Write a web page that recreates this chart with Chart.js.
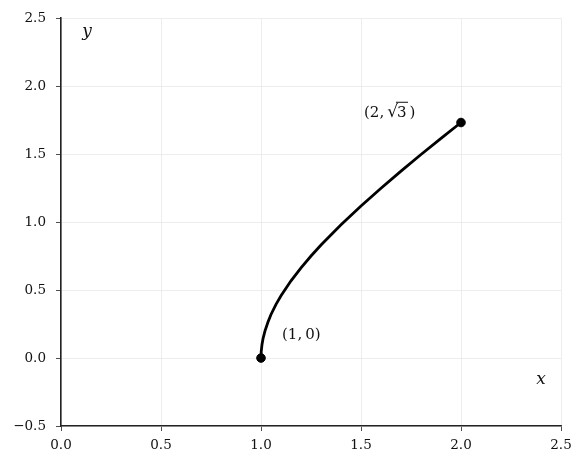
<!DOCTYPE html>
<html>
<head>
<meta charset="utf-8">
<script src="https://cdn.jsdelivr.net/npm/chart.js@4/dist/chart.umd.min.js"></script>
<style>
  html, body { margin: 0; padding: 0; background: #fff; }
  #wrap { width: 584px; height: 464px; }
</style>
</head>
<body>
<div id="wrap"><canvas id="chart" width="584" height="464"></canvas></div>
<script>
// curve
const curveX = [1.0, 1.001, 1.005, 1.01, 1.02, 1.035, 1.05, 1.075, 1.1, 1.15, 1.2, 1.25, 1.3, 1.4, 1.5, 1.6, 1.7, 1.8, 1.9, 2.0];
const curveY = [0.0, 0.045, 0.10, 0.142, 0.20, 0.265, 0.32, 0.395, 0.458, 0.568, 0.663, 0.75, 0.831, 0.98, 1.118, 1.249, 1.375, 1.497, 1.616, 1.732];
const endX = [1, 2];
const endY = [0, 1.732];
const xTicks = [0, 0.5, 1, 1.5, 2, 2.5];
const yTicks = [-0.5, 0, 0.5, 1, 1.5, 2, 2.5];

const serif = '"DejaVu Serif", serif';

function fmt(v) {
  return v.toFixed(1).replace('-', '\u2212');
}

// draws annotations at data coordinates
const textPlugin = {
  id: 'texts',
  afterDatasetsDraw(chart) {
    const ctx = chart.ctx;
    const xs = chart.scales.x, ys = chart.scales.y;
    ctx.save();
    ctx.fillStyle = '#111';
    ctx.textBaseline = 'middle';
    ctx.textAlign = 'left';

    ctx.font = '15px ' + serif;
    ctx.fillText('(1,\u20090)', xs.getPixelForValue(1.105), ys.getPixelForValue(0.17));

    // (2, √3) with an overline on the 3
    let px = xs.getPixelForValue(1.515), py = ys.getPixelForValue(1.80);
    const a = '(2,\u2009';
    ctx.fillText(a, px, py);
    let w = ctx.measureText(a).width;
    ctx.font = '17px ' + serif;
    ctx.fillText('\u221A', px + w, py - 1);
    w += ctx.measureText('\u221A').width - 1;
    ctx.font = '15px ' + serif;
    ctx.fillText('3', px + w, py);
    const w3 = ctx.measureText('3').width;
    ctx.fillText(')', px + w + w3 + 3, py);
    ctx.strokeStyle = '#111';
    ctx.lineWidth = 1;
    ctx.beginPath();
    ctx.moveTo(px + w - 1, py - 11);
    ctx.lineTo(px + w + w3 + 1.5, py - 11);
    ctx.stroke();

    ctx.font = 'italic 17px ' + serif;
    ctx.textAlign = 'center';
    ctx.fillText('x', xs.getPixelForValue(2.4), ys.getPixelForValue(-0.16));
    ctx.fillText('y', xs.getPixelForValue(0.13), ys.getPixelForValue(2.4));
    ctx.restore();
  }
};

new Chart(document.getElementById('chart'), {
  type: 'scatter',
  data: {
    datasets: [
      {
        data: curveX.map((x, i) => ({ x: x, y: curveY[i] })),
        showLine: true,
        borderColor: '#000',
        borderWidth: 2.8,
        pointRadius: 0,
        tension: 0
      },
      {
        data: endX.map((x, i) => ({ x: x, y: endY[i] })),
        showLine: false,
        pointRadius: 4.3,
        backgroundColor: '#000',
        borderColor: '#000'
      }
    ]
  },
  options: {
    responsive: false,
    animation: false,
    layout: { padding: { top: 17, right: 23, left: 0, bottom: 0 } },
    plugins: { legend: { display: false }, tooltip: { enabled: false } },
    scales: {
      x: {
        type: 'linear',
        min: 0, max: 2.5,
        afterBuildTicks: s => { s.ticks = xTicks.map(v => ({ value: v })); },
        afterFit: s => { s.height = 38; },
        grid: { color: '#e8e8e8', tickColor: '#222', tickLength: 5, lineWidth: 0.8 },
        border: { color: '#222', width: 1.6 },
        ticks: { color: '#111', font: { family: serif, size: 13.5 }, padding: 6, maxRotation: 0, callback: v => fmt(v) }
      },
      y: {
        type: 'linear',
        min: -0.5, max: 2.5,
        afterBuildTicks: s => { s.ticks = yTicks.map(v => ({ value: v })); },
        afterFit: s => { s.width = 61; },
        grid: { color: '#e8e8e8', tickColor: '#222', tickLength: 5, lineWidth: 0.8 },
        border: { color: '#222', width: 1.6 },
        ticks: { color: '#111', font: { family: serif, size: 13.5 }, padding: 10, callback: v => fmt(v) }
      }
    }
  },
  plugins: [textPlugin]
});
</script>
</body>
</html>
